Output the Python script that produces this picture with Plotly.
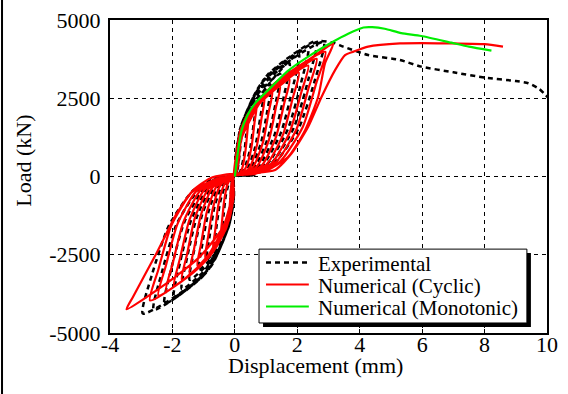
import plotly.graph_objects as go

# ---------------- data ----------------
# Experimental hysteresis (displacement mm, load kN), cycle by cycle
experimental_points = [
    (0.00, 0), (0.02, 60),
    # cycle 1
    (0.03, 680), (0.16, 1350), (0.40, 1800), (0.36, 1300), (0.29, 650), (0.18, 180), (0.08, 20), (-0.02, 40),
    (-0.03, -650), (-0.16, -1280), (-0.40, -1700), (-0.36, -1220), (-0.29, -610), (-0.18, -170), (-0.08, -20), (0.02, 60),
    # cycle 2
    (0.05, 840), (0.26, 1650), (0.65, 2200), (0.59, 1580), (0.47, 790), (0.29, 220), (0.13, 20), (-0.02, 40),
    (-0.05, -860), (-0.26, -1690), (-0.65, -2250), (-0.59, -1620), (-0.47, -810), (-0.29, -230), (-0.13, -20), (0.02, 60),
    # cycle 3
    (0.07, 980), (0.36, 1940), (0.90, 2580), (0.81, 1860), (0.65, 930), (0.41, 260), (0.18, 30), (-0.02, 40),
    (-0.07, -1010), (-0.36, -1990), (-0.90, -2650), (-0.81, -1910), (-0.65, -950), (-0.41, -270), (-0.18, -30), (0.02, 60),
    # cycle 4
    (0.09, 1110), (0.46, 2190), (1.15, 2920), (1.04, 2100), (0.83, 1050), (0.52, 290), (0.23, 30), (-0.02, 40),
    (-0.09, -1130), (-0.46, -2240), (-1.15, -2980), (-1.04, -2150), (-0.83, -1070), (-0.52, -300), (-0.23, -30), (0.02, 60),
    # cycle 5
    (0.12, 1250), (0.58, 2460), (1.45, 3280), (1.31, 2360), (1.04, 1180), (0.65, 330), (0.29, 30), (-0.02, 40),
    (-0.12, -1250), (-0.58, -2480), (-1.45, -3300), (-1.31, -2380), (-1.04, -1190), (-0.65, -330), (-0.29, -30), (0.02, 60),
    # cycle 6
    (0.14, 1380), (0.70, 2720), (1.75, 3620), (1.58, 2610), (1.26, 1300), (0.79, 360), (0.35, 40), (-0.02, 40),
    (-0.14, -1370), (-0.68, -2700), (-1.70, -3600), (-1.53, -2590), (-1.22, -1300), (-0.77, -360), (-0.34, -40), (0.02, 60),
    # cycle 7
    (0.16, 1490), (0.82, 2940), (2.05, 3920), (1.85, 2820), (1.48, 1410), (0.92, 390), (0.41, 40), (-0.02, 40),
    (-0.16, -1460), (-0.78, -2890), (-1.95, -3850), (-1.76, -2770), (-1.40, -1390), (-0.88, -390), (-0.39, -40), (0.02, 60),
    # cycle 8
    (0.19, 1580), (0.94, 3110), (2.35, 4150), (2.12, 2990), (1.69, 1490), (1.06, 420), (0.47, 40), (-0.02, 40),
    (-0.18, -1540), (-0.90, -3050), (-2.25, -4060), (-2.03, -2920), (-1.62, -1460), (-1.01, -410), (-0.45, -40), (0.02, 60),
    # cycle 9
    (0.21, 1650), (1.05, 3250), (2.62, 4330), (2.36, 3120), (1.89, 1560), (1.18, 430), (0.52, 40), (-0.02, 40),
    (-0.21, -1620), (-1.04, -3200), (-2.60, -4260), (-2.34, -3070), (-1.87, -1530), (-1.17, -430), (-0.52, -40), (0.02, 60),
    # cycle 10
    (0.23, 1630), (1.14, 3230), (2.85, 4300), (2.57, 3100), (2.05, 1550), (1.28, 430), (0.57, 40), (-0.02, 40),
    (-0.24, -1660), (-1.18, -3290), (-2.95, -4380), (-2.66, -3150), (-2.12, -1580), (-1.33, -440), (-0.59, -40), (0.02, 60),
    # final loading and post-peak branch
    (0.25, 1450), (0.90, 2700), (1.60, 3550), (2.30, 4150), (2.75, 4330), (3.15, 4275), (3.47, 4150),
    (4.27, 3880), (5.29, 3720), (5.97, 3510), (7.00, 3330), (8.00, 3160), (9.00, 3050), (9.40, 2980),
    (9.75, 2800), (10.10, 2450),
]

# Numerical (cyclic) hysteresis
cyclic_points = [
    (0.00, 0), (-0.03, 70),
    # cycle 1
    (0.04, 680), (0.18, 1480), (0.45, 2050), (0.41, 1540), (0.34, 820), (0.23, 250), (0.10, 40), (-0.03, 70),
    (-0.04, -630), (-0.18, -1370), (-0.45, -1900), (-0.41, -1430), (-0.34, -760), (-0.23, -230), (-0.10, -40), (0.02, 70),
    # cycle 2
    (0.06, 760), (0.28, 1660), (0.70, 2300), (0.63, 1730), (0.53, 920), (0.35, 280), (0.15, 50), (-0.03, 70),
    (-0.06, -760), (-0.28, -1660), (-0.70, -2300), (-0.63, -1730), (-0.53, -920), (-0.35, -280), (-0.15, -50), (0.02, 70),
    # cycle 3
    (0.08, 830), (0.38, 1810), (0.95, 2520), (0.86, 1890), (0.71, 1010), (0.48, 300), (0.21, 50), (-0.03, 70),
    (-0.08, -860), (-0.38, -1870), (-0.95, -2600), (-0.86, -1950), (-0.71, -1040), (-0.48, -310), (-0.21, -50), (0.02, 70),
    # cycle 4
    (0.10, 900), (0.48, 1960), (1.20, 2720), (1.08, 2040), (0.90, 1090), (0.60, 330), (0.26, 50), (-0.03, 70),
    (-0.10, -940), (-0.48, -2050), (-1.20, -2850), (-1.08, -2140), (-0.90, -1140), (-0.60, -340), (-0.26, -60), (0.02, 70),
    # cycle 5
    (0.12, 960), (0.58, 2090), (1.45, 2900), (1.31, 2180), (1.09, 1160), (0.73, 350), (0.32, 60), (-0.03, 70),
    (-0.12, -1020), (-0.58, -2230), (-1.45, -3100), (-1.31, -2330), (-1.09, -1240), (-0.73, -370), (-0.32, -60), (0.02, 70),
    # cycle 6
    (0.14, 1020), (0.70, 2230), (1.75, 3100), (1.58, 2330), (1.31, 1240), (0.88, 370), (0.39, 60), (-0.03, 70),
    (-0.14, -1090), (-0.68, -2380), (-1.70, -3300), (-1.53, -2480), (-1.28, -1320), (-0.85, -400), (-0.37, -70), (0.02, 70),
    # cycle 7
    (0.16, 1100), (0.82, 2390), (2.05, 3320), (1.85, 2490), (1.54, 1330), (1.03, 400), (0.45, 70), (-0.03, 70),
    (-0.16, -1160), (-0.78, -2520), (-1.95, -3500), (-1.76, -2630), (-1.46, -1400), (-0.98, -420), (-0.43, -70), (0.02, 70),
    # cycle 8
    (0.19, 1170), (0.94, 2550), (2.35, 3540), (2.12, 2660), (1.76, 1420), (1.18, 420), (0.52, 70), (-0.03, 70),
    (-0.18, -1200), (-0.88, -2630), (-2.20, -3650), (-1.98, -2740), (-1.65, -1460), (-1.10, -440), (-0.48, -70), (0.02, 70),
    # cycle 9
    (0.21, 1240), (1.05, 2710), (2.62, 3760), (2.36, 2820), (1.97, 1500), (1.31, 450), (0.58, 80), (-0.03, 70),
    (-0.20, -1250), (-0.98, -2740), (-2.45, -3800), (-2.21, -2850), (-1.84, -1520), (-1.23, -460), (-0.54, -80), (0.02, 70),
    # cycle 10
    (0.23, 1310), (1.16, 2870), (2.90, 3980), (2.61, 2990), (2.18, 1590), (1.45, 480), (0.64, 80), (-0.03, 70),
    (-0.22, -1310), (-1.09, -2850), (-2.72, -3960), (-2.45, -2970), (-2.04, -1580), (-1.36, -480), (-0.60, -80), (0.02, 70),
    # cycle 11 (outer)
    (0.10, 700), (0.27, 1480), (0.54, 2130), (1.07, 2770), (1.77, 3300), (2.51, 3830), (3.15, 4240),
    (2.89, 3620), (2.67, 2550), (2.25, 1480), (1.71, 630), (1.00, 180), (0.40, 60), (-0.03, 70),
    (-0.05, -430), (-0.37, -1600), (-1.12, -2560), (-2.18, -3410), (-3.47, -4240),
    (-3.26, -3840), (-2.51, -2450), (-1.86, -1180), (-1.33, -430), (-0.80, -60), (-0.30, 60), (0.10, 90),
    # final loading
    (0.60, 110), (1.29, 210), (1.82, 740), (2.35, 1590), (2.78, 2550), (3.21, 3400), (3.53, 3880),
    (3.80, 3990), (4.27, 4150), (5.29, 4250), (5.97, 4260), (7.00, 4250), (8.00, 4230), (8.59, 4150),
]

# Numerical (monotonic) curve
mono_disp = [0.00, 0.10, 0.21, 0.40, 0.64, 1.07, 1.71, 2.35, 3.10, 3.63, 4.12, 4.40, 4.80, 5.33, 5.97, 6.94, 7.50, 8.22]
mono_load = [0, 800, 1450, 1950, 2330, 2760, 3380, 3830, 4280, 4560, 4760, 4770, 4720, 4580, 4490, 4275, 4150, 4020]

exp_disp = [p[0] for p in experimental_points]
exp_load = [p[1] for p in experimental_points]
cyc_disp = [p[0] for p in cyclic_points]
cyc_load = [p[1] for p in cyclic_points]

x_ticks = [-4, -2, 0, 2, 4, 6, 8, 10]
y_ticks = [-5000, -2500, 0, 2500, 5000]
series_names = ["Experimental", "Numerical (Cyclic)", "Numerical (Monotonic)"]

# ---------------- figure ----------------
FONT = "Liberation Serif"
EXP_STYLE = dict(color="black", width=2.5, dash="5px,4px")
CYC_STYLE = dict(color="#ff0000", width=2.2)
MON_STYLE = dict(color="#00ee00", width=2.2)

fig = go.Figure()
fig.add_trace(go.Scatter(x=exp_disp, y=exp_load, mode="lines", name=series_names[0],
                         line=dict(**EXP_STYLE, shape="spline", smoothing=0.6)))
fig.add_trace(go.Scatter(x=cyc_disp, y=cyc_load, mode="lines", name=series_names[1],
                         line=dict(**CYC_STYLE, shape="spline", smoothing=0.6)))
fig.add_trace(go.Scatter(x=mono_disp, y=mono_load, mode="lines", name=series_names[2],
                         line=dict(**MON_STYLE, shape="spline", smoothing=0.6)))

axis_common = dict(
    showline=True, linecolor="black", linewidth=2, mirror=True,
    showgrid=True, gridcolor="black", gridwidth=1, griddash="4px,4px",
    zeroline=False, ticks="inside", ticklen=4, tickcolor="black", tickwidth=1,
    tickfont=dict(family=FONT, size=22, color="black"), automargin=False,
)

fig.update_xaxes(range=[-4, 10], tickvals=x_ticks, ticktext=[str(v) for v in x_ticks],
                 ticklabelstandoff=-9, **axis_common)
fig.update_yaxes(range=[-5000, 5000], tickvals=y_ticks, ticktext=[str(v) for v in y_ticks],
                 ticklabelstandoff=3, **axis_common)

# legend drawn as a boxed key (with drop shadow) inside the plot, paper coordinates
box_x0, box_x1, box_y0, box_y1 = 0.341, 0.954, 0.032, 0.268
shadow_dx, shadow_dy = 0.0092, 0.0128
row_y = [0.2252, 0.1550, 0.0847]
sample_x0, sample_x1, text_x = 0.357, 0.455, 0.4714
styles = [EXP_STYLE, CYC_STYLE, MON_STYLE]

shapes = [
    # thin frame bar at the left edge of the picture
    dict(type="rect", xref="paper", yref="paper", layer="above",
         x0=-0.2494, x1=-0.2448, y0=-0.1949, y1=1.0639,
         fillcolor="black", line=dict(width=0)),
    dict(type="rect", xref="paper", yref="paper", layer="above",
         x0=box_x0 + shadow_dx, x1=box_x1 + shadow_dx, y0=box_y0 - shadow_dy, y1=box_y1 - shadow_dy,
         fillcolor="black", line=dict(width=0)),
    dict(type="rect", xref="paper", yref="paper", layer="above",
         x0=box_x0, x1=box_x1, y0=box_y0, y1=box_y1,
         fillcolor="white", line=dict(color="black", width=1)),
]
annotations = [
    dict(text="Displacement (mm)", xref="paper", yref="paper", x=0.470, y=-0.103,
         xanchor="center", yanchor="middle", showarrow=False,
         font=dict(family=FONT, size=22, color="black")),
    dict(text="Load (kN)", xref="paper", yref="paper", x=-0.197, y=0.55,
         xanchor="center", yanchor="middle", showarrow=False, textangle=-90,
         font=dict(family=FONT, size=22, color="black")),
]
for name, st, ry in zip(series_names, styles, row_y):
    shapes.append(dict(type="line", xref="paper", yref="paper", layer="above",
                       x0=sample_x0, x1=sample_x1, y0=ry, y1=ry, line=st))
    annotations.append(dict(text=name, xref="paper", yref="paper", x=text_x, y=ry - 0.004,
                            xanchor="left", yanchor="middle", showarrow=False,
                            font=dict(family=FONT, size=21, color="black")))

fig.update_layout(
    width=568, height=394, autosize=False,
    margin=dict(l=110, r=21, t=20, b=61),
    paper_bgcolor="white", plot_bgcolor="white",
    font=dict(family=FONT, size=22, color="black"),
    showlegend=False, hovermode=False,
    annotations=annotations,
    shapes=shapes,
)

fig.write_html("out.html", config={"displayModeBar": False},
               post_script="document.body.style.margin='0px';")
